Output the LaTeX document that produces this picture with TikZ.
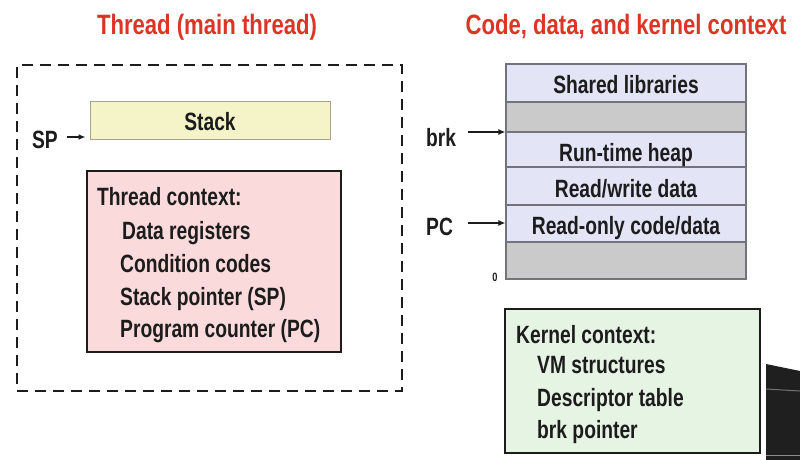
\documentclass[tikz,border=0pt]{standalone}
\usepackage{fontspec}
\setmainfont{Liberation Sans}[FakeStretch=0.77]
\newfontfamily\titlefont{Liberation Sans}[FakeStretch=0.79]
\usetikzlibrary{arrows.meta}

\definecolor{titlered}{RGB}{221,52,38}
\definecolor{ink}{RGB}{28,28,28}
\definecolor{stackfill}{RGB}{244,244,200}
\definecolor{stackline}{RGB}{165,165,140}
\definecolor{ctxfill}{RGB}{250,218,218}
\definecolor{kernfill}{RGB}{230,244,228}
\definecolor{memfill}{RGB}{228,228,247}
\definecolor{gapfill}{RGB}{202,202,202}
\definecolor{memline}{RGB}{115,115,125}

\tikzset{
  x=1pt, y=-1pt,
  title/.style={font=\titlefont\bfseries\fontsize{28}{30}\selectfont, text=titlered, anchor=base, inner sep=0pt},
  txt/.style={font=\bfseries\fontsize{25}{28}\selectfont, text=ink, inner sep=0pt},
  ctxbox/.style={draw=ink, line width=2.4pt, rectangle, inner sep=0pt},
  memrow/.style={draw=memline, line width=1.2pt, fill=memfill, rectangle, inner sep=0pt,
                 minimum width=240pt},
  gaprow/.style={memrow, fill=gapfill},
  ptr/.style={-{Latex[length=7pt,width=6pt]}, line width=2.4pt, draw=ink},
}

\begin{document}
\begin{tikzpicture}
\useasboundingbox (0,0) rectangle (800,460);
\fill[white] (0,0) rectangle (800,460);

% titles
\node[title] (t1) at (207,35) {Thread (main thread)};
\node[title] (t2) at (626,35) {Code, data, and kernel context};

% thread boundary
\node[draw=ink, line width=2.8pt, dash pattern=on 11pt off 7pt, rectangle,
      minimum width=385pt, minimum height=326pt, inner sep=0pt] (thread) at (209.5,228) {};

% stack
\node[draw=stackline, line width=1pt, fill=stackfill, rectangle, inner sep=0pt,
      minimum width=240pt, minimum height=38pt] (stack) at (210,120) {};
\node[txt, anchor=base] (stacklbl) at (210,130) {Stack};
\node[txt, anchor=base east] (sp) at (58,148) {SP};
\coordinate (spfrom) at (67,137);
\draw[ptr, line width=1.8pt] (spfrom) -- ([xshift=-4pt]spfrom -| stack.west);

% thread context
\node[ctxbox, fill=ctxfill, minimum width=254pt, minimum height=181pt] (ctx) at (214,261.5) {};
\foreach \t/\x/\y [count=\i] in {{Thread context:}/97/205, {Data registers}/122/239,
    {Condition codes}/120/272, {Stack pointer (SP)}/120/305, {Program counter (PC)}/120/337}
  \node[txt, anchor=base west] (tc\i) at (\x,\y) {\t};

% address space
\node[memrow, minimum height=38pt] (shlib) at (626,83) {};
\node[gaprow, minimum height=30pt] (gap1) at (626,117) {};
\node[memrow, minimum height=35pt] (heap) at (626,149.5) {};
\node[memrow, minimum height=38pt] (rwdata) at (626,186) {};
\node[memrow, minimum height=37pt] (rocode) at (626,223.5) {};
\node[gaprow, minimum height=37pt] (gap2) at (626,260.5) {};
\node[txt, anchor=base] (shliblbl) at (626,93) {Shared libraries};
\node[txt, anchor=base] (heaplbl) at (626,161) {Run-time heap};
\node[txt, anchor=base] (rwlbl) at (626,197) {Read/write data};
\node[txt, anchor=base] (rolbl) at (626,234) {Read-only code/data};

\node[txt, anchor=base west] (brk) at (426,146) {brk};
\node[txt, anchor=base west] (pc) at (426,235) {PC};
\node[font=\bfseries\fontsize{12}{14}\selectfont, text=ink, inner sep=0pt, anchor=base] (zero) at (495,281) {0};
\coordinate (brkfrom) at (468,132);
\coordinate (pcfrom) at (468,223);
\draw[ptr] (brkfrom) -- (brkfrom -| heap.north west);
\draw[ptr] (pcfrom) -- (pcfrom -| rocode.west);

% kernel context
\node[ctxbox, fill=kernfill, minimum width=255pt, minimum height=144pt] (kern) at (632.5,381) {};
\foreach \t/\x/\y [count=\i] in {{Kernel context:}/516/343, {VM structures}/537/373,
    {Descriptor table}/537/406, {brk pointer}/537/438}
  \node[txt, anchor=base west] (kc\i) at (\x,\y) {\t};

% dark edge at the lower right
\fill[black!88] (766,364) -- (800,371) -- (800,460) -- (766,460) -- cycle;
\draw[black!55, line width=1pt] (766,389) -- (800,391);
\draw[black!45, line width=1pt] (766,455) -- (800,455);
\end{tikzpicture}
\end{document}
